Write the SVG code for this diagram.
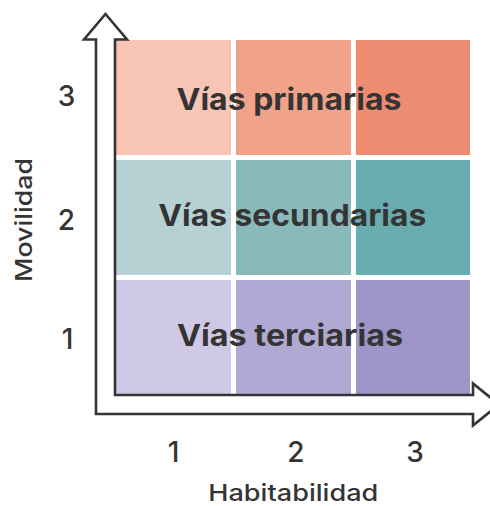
<svg xmlns="http://www.w3.org/2000/svg" width="490" height="506" viewBox="0 0 490 506">
  <style>
    .lbl { font-family: Inter, "Liberation Sans", Arial, sans-serif; font-weight: 700; font-size: 30px; fill: #353434; text-anchor: middle; }
    .num { font-family: Inter, "Liberation Sans", Arial, sans-serif; font-weight: 500; font-size: 28px; fill: #353434; text-anchor: middle; }
    .ax { font-family: Inter, "Liberation Sans", Arial, sans-serif; font-weight: 500; font-size: 23px; fill: #353434; text-anchor: middle; }
    .axis { fill: #ffffff; stroke: #353434; stroke-width: 2.6; stroke-linejoin: miter; }
  </style>
  <rect width="490" height="506" fill="#ffffff"/>
  <g id="cells">
    <rect x="116" y="40" width="115" height="115" fill="#F8C5B5"/>
    <rect x="236" y="40" width="115" height="115" fill="#F1A389"/>
    <rect x="356" y="40" width="114" height="115" fill="#EE8C72"/>
    <rect x="116" y="160" width="115" height="115" fill="#B6D1D4"/>
    <rect x="236" y="160" width="115" height="115" fill="#8AB9BC"/>
    <rect x="356" y="160" width="114" height="115" fill="#69ADB1"/>
    <rect x="116" y="280" width="115" height="115" fill="#CFC9E6"/>
    <rect x="236" y="280" width="115" height="115" fill="#B0A9D4"/>
    <rect x="356" y="280" width="114" height="115" fill="#9E96C9"/>
  </g>
  <g id="connectors">
    <path class="axis" d="M105.5,14 L127,39.5 L115,39.5 L115,395 L473,395 L473,383.5 L499,404.5 L473,425.5 L473,414 L96,414 L96,39.5 L84,39.5 Z"/>
  </g>
  <g id="node-primarias">
    <text class="lbl" x="289" y="109.5" textLength="225" lengthAdjust="spacingAndGlyphs">Vías primarias</text>
  </g>
  <g id="node-secundarias">
    <text class="lbl" x="292.3" y="226" textLength="268" lengthAdjust="spacingAndGlyphs">Vías secundarias</text>
  </g>
  <g id="node-terciarias">
    <text class="lbl" x="290" y="346" textLength="226" lengthAdjust="spacingAndGlyphs">Vías terciarias</text>
  </g>
  <g id="y-axis-labels">
    <text class="num" x="66.5" y="106">3</text>
    <text class="num" x="66.5" y="230">2</text>
    <text class="num" x="67.5" y="348.5">1</text>
    <text class="ax" transform="translate(31.5,220) rotate(-90)" x="0" y="0" textLength="124" lengthAdjust="spacingAndGlyphs">Movilidad</text>
  </g>
  <g id="x-axis-labels">
    <text class="num" x="173.5" y="461.5">1</text>
    <text class="num" x="296" y="461.5">2</text>
    <text class="num" x="415" y="461.5">3</text>
    <text class="ax" x="293.3" y="501" textLength="170" lengthAdjust="spacingAndGlyphs">Habitabilidad</text>
  </g>
</svg>
